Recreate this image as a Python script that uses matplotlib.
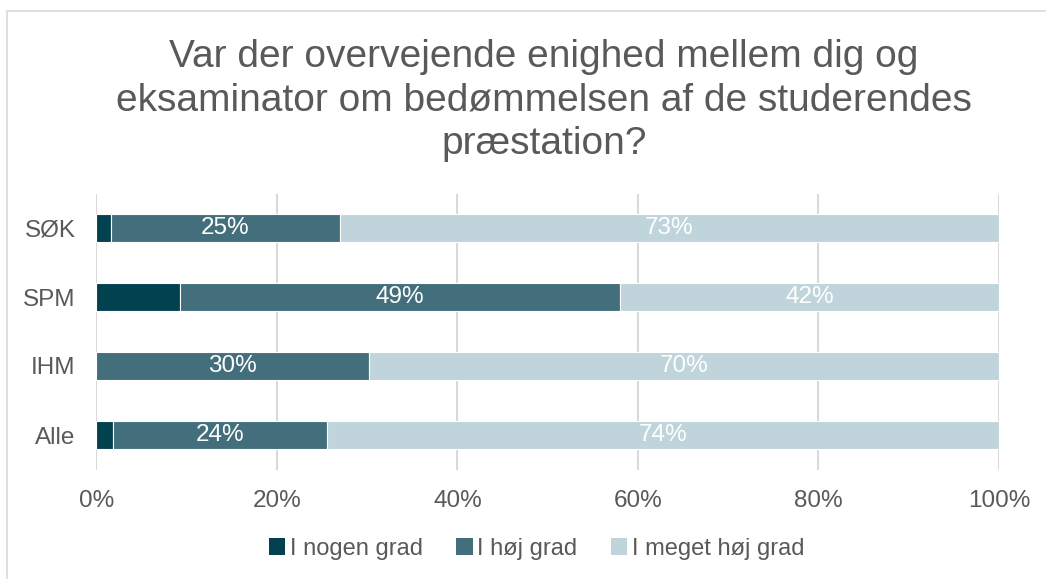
import matplotlib
matplotlib.use("Agg")
import matplotlib.pyplot as plt
from matplotlib.patches import Rectangle, Patch
from matplotlib.ticker import FuncFormatter
import numpy as np

plt.rcParams['font.family'] = ['Liberation Sans', 'DejaVu Sans']

categories = ["SØK", "SPM", "IHM", "Alle"]
nogen = [1.6, 9.3, 0.0, 1.9]
hoj = [25.4, 48.7, 30.2, 23.7]
meget = [73.0, 42.0, 69.8, 74.4]
series_names = ["I nogen grad", "I høj grad", "I meget høj grad"]
colors = ["#02414F", "#426F7B", "#BFD5DB"]
title = "Var der overvejende enighed mellem dig og\neksaminator om bedømmelsen af de studerendes\npræstation?"
xticks = [0, 20, 40, 60, 80, 100]

W, H = 1046, 579
fig = plt.figure(figsize=(W / 100, H / 100), dpi=100)
ax = fig.add_axes([96.3 / W, 1 - 469.5 / H, (999 - 96.3) / W, (469.5 - 193.5) / H])

# figure frame
fig.patches.append(Rectangle((7 / W, -0.05), 1.2, 1 - 11 / H + 0.05, transform=fig.transFigure,
                             fill=False, edgecolor="#D9D9D9", linewidth=1.2))

y = np.arange(len(categories))
left = np.zeros(len(categories))
grey = "#595959"
for vals, name, col in zip([nogen, hoj, meget], series_names, colors):
    bars = ax.barh(y, vals, left=left, height=0.4, color=col, edgecolor="white",
                   linewidth=0.8, label=name, zorder=3)
    if name != "I nogen grad":
        for b, v in zip(bars, vals):
            if v > 0:
                ax.text(b.get_x() + b.get_width() / 2, b.get_y() + b.get_height() / 2,
                        f"{round(v):d}%", ha="center", va="center", color="white",
                        fontsize=17.5, zorder=4)
    left = left + np.array(vals)

ax.set_ylim(len(categories) - 0.5, -0.5)
ax.set_xlim(0, 100)
ax.set_yticks(y)
ax.set_yticklabels(categories)
ax.set_xticks(xticks)
ax.xaxis.set_major_formatter(FuncFormatter(lambda v, p: f"{v:.0f}%"))
ax.tick_params(axis="both", length=0, labelsize=17.5, labelcolor=grey)
ax.tick_params(axis="y", pad=15)
ax.tick_params(axis="x", pad=15)
ax.grid(axis="x", color="#D9D9D9", linewidth=1.5, zorder=0)
for s in ax.spines.values():
    s.set_visible(False)

fig.text(0.52, 1 - 39 / H, title, ha="center", va="top", fontsize=28, color=grey,
         linespacing=1.26)

handles = [Patch(facecolor=c, edgecolor="none") for c in colors]
fig.legend(handles, series_names, loc="center", bbox_to_anchor=(0.513, 1 - 549 / H),
           ncol=3, frameon=False, fontsize=17, labelcolor=grey, handlelength=0.7,
           handleheight=0.7, handletextpad=0.2, columnspacing=1.4)

fig.savefig("out.png", dpi=100)
